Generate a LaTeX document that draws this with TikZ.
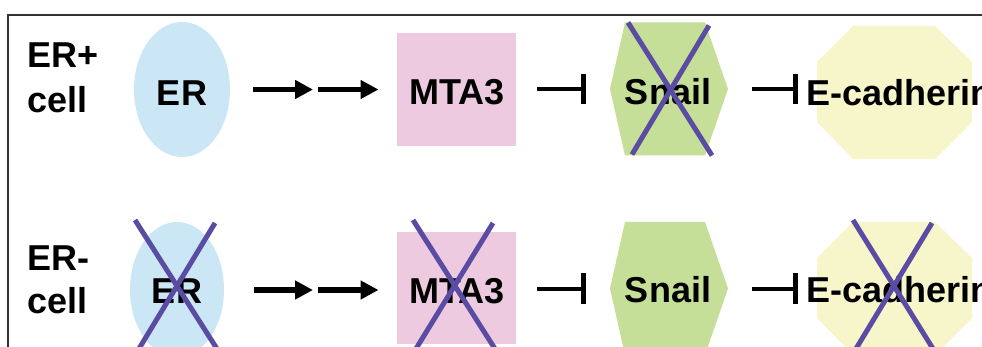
\documentclass[tikz,border=0pt]{standalone}
\usepackage{fontspec}
\setmainfont{Liberation Sans}
\usetikzlibrary{arrows.meta,shapes.geometric}
\definecolor{erblue}{HTML}{CBE7F6}
\definecolor{mtapink}{HTML}{EECAE1}
\definecolor{snailgreen}{HTML}{C6DF98}
\definecolor{ecadyellow}{HTML}{F7F6CB}
\definecolor{crosspurple}{HTML}{5A4CA2}
\definecolor{framegray}{HTML}{333333}
\tikzset{
  lbl/.style={font=\bfseries\fontsize{36}{40}\selectfont, inner sep=0pt, anchor=base},
  sidelbl/.style={font=\bfseries\fontsize{36}{40}\selectfont, inner sep=0pt, anchor=base west},
  box/.style={inner sep=0pt, outer sep=0pt},
  actarrow/.style={line width=5.5pt, -{Triangle[length=18pt,width=18pt]}},
  inhib/.style={line width=4pt, -{Bar[width=30pt,line width=5pt]}},
  crossline/.style={line width=5pt, crosspurple},
  framestyle/.style={line width=1.5pt, framegray}
}
\begin{document}
\begin{tikzpicture}[x=1pt,y=-1pt]
\useasboundingbox (0,0) rectangle (982,347);
\clip (0,0) rectangle (982,347);
\fill[white] (0,0) rectangle (982,347);
\draw[framestyle] (990,15) -- (8,15) -- (8,360);

% side labels
\node[sidelbl] (erplus) at (27,68) {ER+};
\node[sidelbl] (cellA) at (27,113) {cell};
\node[sidelbl] (erminus) at (27,270) {ER-};
\node[sidelbl] (cellB) at (27,313) {cell};

% ===== Row 1 =====
\node[box, ellipse, fill=erblue, minimum width=96pt, minimum height=135pt] (er1) at (182,89.5) {};
\node[box, rectangle, fill=mtapink, minimum width=119pt, minimum height=113pt] (mta1) at (456.5,89.5) {};
\node[box, rectangle, minimum width=118pt, minimum height=133pt] (snail1) at (669,89) {};
\fill[snailgreen] (snail1.west) -- ([xshift=15pt]snail1.north west) -- ([xshift=-23pt]snail1.north east)
  -- (snail1.east) -- ([xshift=-23pt]snail1.south east) -- ([xshift=15pt]snail1.south west) -- cycle;
\node[box, rectangle, minimum width=155pt, minimum height=133pt] (ecad1) at (894.5,92.5) {};
\fill[ecadyellow] ([yshift=-36pt]ecad1.north west) -- ([xshift=36pt]ecad1.north west)
  -- ([xshift=-37pt]ecad1.north east) -- ([yshift=-36pt]ecad1.north east)
  -- ([yshift=37pt]ecad1.south east) -- ([xshift=-37pt]ecad1.south east)
  -- ([xshift=36pt]ecad1.south west) -- ([yshift=37pt]ecad1.south west) -- cycle;

\node[lbl] (ert1) at (182,106) {ER};
\node[lbl] (mtat1) at (457,105) {MTA3};
\node[lbl] (snailt1) at (668,105) {Snail};
\node[sidelbl] (ecadt1) at (806,106) {E-cadherin};

\coordinate (mid1) at (315.5,89.5);
\draw[actarrow, shorten <=23pt] (er1.east) -- ([xshift=-2.5pt]mid1);
\draw[actarrow, shorten >=18.5pt] ([xshift=2.5pt]mid1) -- (mta1.west);
\draw[inhib, shorten <=21pt, shorten >=24pt] (mta1.east |- snail1.west) -- (snail1.west);
\draw[inhib, shorten <=24pt, shorten >=19pt] (snail1.east) -- (ecad1.west |- snail1.east);

% crosses row 1
\draw[crossline] ([xshift=-41pt]snail1.north) -- ([xshift=43pt]snail1.south);
\draw[crossline] ([xshift=40pt,yshift=-3pt]snail1.north) -- ([xshift=-37pt,yshift=1pt]snail1.south);

% ===== Row 2 =====
\node[box, ellipse, fill=erblue, minimum width=94pt, minimum height=135pt] (er2) at (177,289.5) {};
\node[box, rectangle, fill=mtapink, minimum width=119pt, minimum height=112pt] (mta2) at (456.5,288) {};
\node[box, rectangle, minimum width=118pt, minimum height=133pt] (snail2) at (669,288.5) {};
\fill[snailgreen] (snail2.west) -- ([xshift=15pt]snail2.north west) -- ([xshift=-23pt]snail2.north east)
  -- (snail2.east) -- ([xshift=-23pt]snail2.south east) -- ([xshift=15pt]snail2.south west) -- cycle;
\node[box, rectangle, minimum width=155pt, minimum height=133pt] (ecad2) at (894.5,288.5) {};
\fill[ecadyellow] ([yshift=-36pt]ecad2.north west) -- ([xshift=36pt]ecad2.north west)
  -- ([xshift=-37pt]ecad2.north east) -- ([yshift=-36pt]ecad2.north east)
  -- ([yshift=37pt]ecad2.south east) -- ([xshift=-37pt]ecad2.south east)
  -- ([xshift=36pt]ecad2.south west) -- ([yshift=37pt]ecad2.south west) -- cycle;

\node[lbl] (ert2) at (177,303) {ER};
\node[lbl] (mtat2) at (457,303) {MTA3};
\node[lbl] (snailt2) at (668,302) {Snail};
\node[sidelbl] (ecadt2) at (806,302) {E-cadherin};

\coordinate (mid2) at (315.5,290);
\draw[actarrow, shorten <=30pt] (er2.east |- mid2) -- ([xshift=-2.5pt]mid2);
\draw[actarrow, shorten >=18.5pt] ([xshift=2.5pt]mid2) -- (mta2.west |- mid2);
\draw[inhib, shorten <=21pt, shorten >=24pt] (mta2.east |- snail2.west) -- (snail2.west);
\draw[inhib, shorten <=24pt, shorten >=19pt] (snail2.east) -- (ecad2.west |- snail2.east);

% crosses row 2
\draw[crossline] (135,220) -- (219,352);
\draw[crossline] (215,223) -- (137,352);
\draw[crossline] (413,220) -- (497,352);
\draw[crossline] (493,223) -- (414,352);
\draw[crossline] (853,220) -- (935,352);
\draw[crossline] (932,223) -- (854,352);
\end{tikzpicture}
\end{document}
